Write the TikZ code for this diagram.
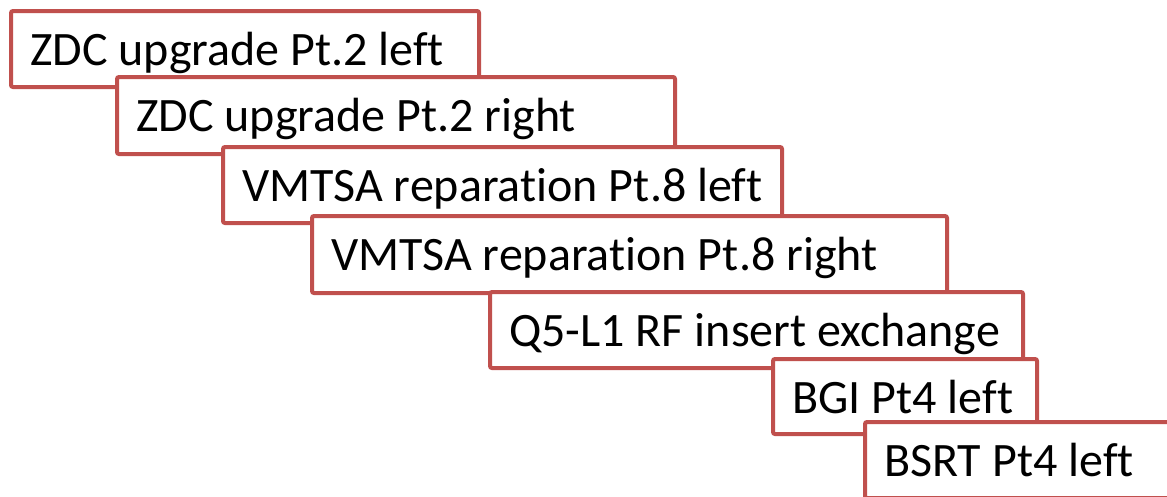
\documentclass[tikz,border=0pt]{standalone}
\usepackage{fontspec}
\setmainfont{Carlito}[Ligatures=NoCommon]
\usetikzlibrary{calc}
\definecolor{boxred}{RGB}{192,80,77}
\begin{document}
\begin{tikzpicture}[x=1pt,y=-1pt,
  box/.style={draw=boxred, line width=4pt, fill=white, rounded corners=2pt,
    outer sep=0pt, inner sep=0pt, anchor=north west},
  lbl/.style={anchor=base west, inner sep=0pt, text=black,
    font=\fontsize{48}{56}\selectfont}]
\useasboundingbox (0,0) rectangle (1167,496);
\clip (0,0) rectangle (1167,496);
\node[box, minimum width=468pt, minimum height=76pt] (b1) at (11,11) {};
\node[lbl] (t1) at ($(b1.north west)+(19,54)$) {ZDC upgrade Pt.2 left};
\node[box, minimum width=558pt, minimum height=77pt] (b2) at (117,77) {};
\node[lbl] (t2) at ($(b2.north west)+(19,54)$) {ZDC upgrade Pt.2 right};
\node[box, minimum width=559pt, minimum height=76pt] (b3) at (223,147) {};
\node[lbl] (t3) at ($(b3.north west)+(19,54)$) {VMTSA reparation Pt.8 left};
\node[box, minimum width=635pt, minimum height=77pt] (b4) at (312,216) {};
\node[lbl] (t4) at ($(b4.north west)+(19,54)$) {VMTSA reparation Pt.8 right};
\node[box, minimum width=533pt, minimum height=76pt] (b5) at (490,292) {};
\node[lbl] (t5) at ($(b5.north west)+(19,54)$) {Q5-L1 RF insert exchange};
\node[box, minimum width=264pt, minimum height=75pt] (b6) at (773,359) {};
\node[lbl] (t6) at ($(b6.north west)+(19,54)$) {BGI Pt4 left};
\node[box, minimum width=315pt, minimum height=76pt] (b7) at (865,422) {};
\node[lbl] (t7) at ($(b7.north west)+(19,54)$) {BSRT Pt4 left};
\end{tikzpicture}
\end{document}
